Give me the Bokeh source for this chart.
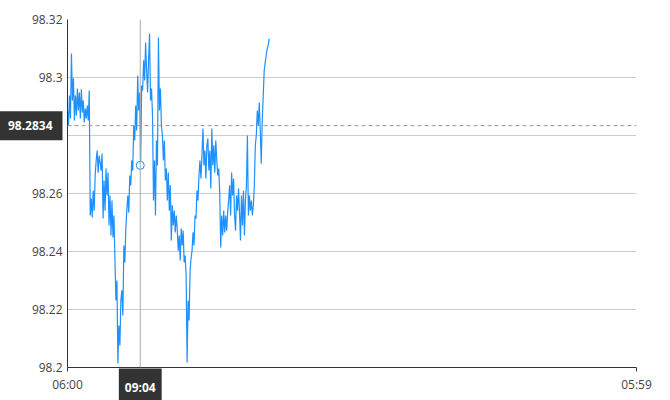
from bokeh.plotting import figure
from bokeh.models import Range1d, FixedTicker, Span, Label, ColumnDataSource
from bokeh.embed import file_html
from bokeh.resources import INLINE

# minutes after 06:00, one sample every 2.5 minutes
step_min = 2.5
price = [
    98.2886, 98.2834, 98.2938, 98.2859, 98.3083, 98.2921, 98.2997, 98.2852, 98.2938, 98.2869,
    98.2962, 98.2886, 98.2948, 98.2859, 98.2959, 98.2879, 98.2921, 98.2845, 98.2893, 98.2859,
    98.2903, 98.2852, 98.2955, 98.2524, 98.2583, 98.2517, 98.2610, 98.2541, 98.2662, 98.2714,
    98.2748, 98.2672, 98.2731, 98.2707, 98.2679, 98.2738, 98.2514, 98.2645, 98.2541, 98.2686,
    98.2593, 98.2672, 98.2490, 98.2593, 98.2455, 98.2576, 98.2448, 98.2524, 98.2369, 98.2231,
    98.2300, 98.2014, 98.2145, 98.2076, 98.2231, 98.2266, 98.2179, 98.2421, 98.2362, 98.2479,
    98.2541, 98.2593, 98.2534, 98.2662, 98.2628, 98.2714, 98.2679, 98.2834, 98.2783, 98.2903,
    98.2817, 98.3007, 98.2886, 98.2948, 98.2697, 98.2972, 98.2955, 98.3059, 98.2990, 98.3121,
    98.3024, 98.2948, 98.3059, 98.3152, 98.2921, 98.2962, 98.2869, 98.2576, 98.2714, 98.2524,
    98.2783, 98.2697, 98.3138, 98.2886, 98.2962, 98.2834, 98.2800, 98.2714, 98.2783, 98.2645,
    98.2686, 98.2576, 98.2672, 98.2541, 98.2628, 98.2438, 98.2559, 98.2490, 98.2541, 98.2466,
    98.2524, 98.2479, 98.2403, 98.2455, 98.2369, 98.2479, 98.2421, 98.2472, 98.2362, 98.2386,
    98.2317, 98.2017, 98.2231, 98.2162, 98.2334, 98.2376, 98.2403, 98.2466, 98.2421, 98.2524,
    98.2514, 98.2610, 98.2576, 98.2662, 98.2714, 98.2652, 98.2731, 98.2824, 98.2697, 98.2748,
    98.2652, 98.2766, 98.2790, 98.2679, 98.2748, 98.2617, 98.2824, 98.2697, 98.2766, 98.2672,
    98.2783, 98.2714, 98.2662, 98.2686, 98.2600, 98.2414, 98.2524, 98.2455, 98.2541, 98.2466,
    98.2524, 98.2472, 98.2534, 98.2576, 98.2628, 98.2524, 98.2672, 98.2593, 98.2652, 98.2524,
    98.2472, 98.2593, 98.2541, 98.2617, 98.2534, 98.2438, 98.2593, 98.2490, 98.2610, 98.2455,
    98.2576, 98.2628, 98.2800, 98.2524, 98.2593, 98.2541, 98.2576, 98.2524, 98.2559, 98.2628,
    98.2766, 98.2800, 98.2886, 98.2834, 98.2914, 98.2817, 98.2703, 98.2852, 98.2938, 98.3024,
    98.3052, 98.3076, 98.3100, 98.3110, 98.3134,
]
times = [i * step_min for i in range(len(price))]

x_ticks = [0, 1439]
x_tick_labels = ["06:00", "05:59"]
y_ticks = [98.2, 98.22, 98.24, 98.26, 98.28, 98.3, 98.32]
# the 98.28 label sits under the price badge in the original, so it is left blank
y_tick_labels = ["98.2", "98.22", "98.24", "98.26", "", "98.3", "98.32"]

ref_price = 98.2834
ref_label = "98.2834"
cursor_time = 184
cursor_label = "09:04"
cursor_price = 98.2697

FONT = "Open Sans"
W, H = 670, 400
BL, BR, BT, BB = 67, 34, 19, 33
X0, X1 = 0, 1439
Y0, Y1 = 98.2, 98.32

p = figure(width=W, height=H, output_backend="svg", toolbar_location=None,
           x_range=Range1d(X0, X1), y_range=Range1d(Y0, Y1),
           min_border_left=BL, min_border_right=BR, min_border_top=BT, min_border_bottom=BB)
p.outline_line_color = None
p.background_fill_color = "white"

src = ColumnDataSource(dict(t=times, v=price))
p.line("t", "v", source=src, line_color="#1E90FF", line_width=1.2)

p.xgrid.visible = False
p.ygrid.ticker = FixedTicker(ticks=y_ticks)
p.ygrid.grid_line_color = "#CCCCCC"

xa = p.xaxis[0]
xa.ticker = FixedTicker(ticks=x_ticks)
xa.major_label_overrides = dict(zip(x_ticks, x_tick_labels))
xa.axis_line_color = "#333333"
xa.major_tick_line_color = "#333333"
xa.major_tick_out = 4
xa.major_tick_in = 0
xa.minor_tick_line_color = None
xa.major_label_standoff = 4
xa.major_label_text_font = FONT
xa.major_label_text_font_size = "12px"
xa.major_label_text_color = "#444444"

ya = p.yaxis[0]
ya.ticker = FixedTicker(ticks=y_ticks)
ya.major_label_overrides = dict(zip(y_ticks, y_tick_labels))
ya.axis_line_color = "#333333"
ya.major_tick_line_color = None
ya.major_tick_out = 0
ya.major_tick_in = 0
ya.minor_tick_line_color = None
ya.major_label_standoff = 5
ya.major_label_text_font = FONT
ya.major_label_text_font_size = "12px"
ya.major_label_text_color = "#444444"

p.add_layout(Span(location=ref_price, dimension="width", line_color="#999999",
                  line_dash="4 3", line_width=1))
p.add_layout(Span(location=cursor_time, dimension="height", line_color="#AAAAAA",
                  line_width=1))
p.scatter([cursor_time], [cursor_price], size=8, marker="circle",
          fill_color="white", line_color="#1E90FF", line_width=1)

# value badges: side-panel annotations are not clipped to the frame;
# their boxes are widened with a thick border of the same colour.
p.add_layout(Label(x=X0, y=ref_price, x_offset=-15, text=ref_label,
                   text_align="right", text_baseline="middle",
                   text_color="white", text_font=FONT,
                   text_font_size="12px", text_font_style="bold",
                   background_fill_color="#333333",
                   border_line_color="#333333", border_line_width=20,
                   border_line_join="miter",
                   padding=0), "above")
p.add_layout(Label(x=cursor_time, y=Y0, y_offset=-7, text=cursor_label,
                   text_align="center", text_baseline="top",
                   text_color="white", text_font=FONT,
                   text_font_size="12px", text_font_style="bold",
                   background_fill_color="#333333",
                   border_line_color="#333333", border_line_width=12,
                   border_line_join="miter",
                   padding=dict(left=0, right=0, top=4, bottom=4)), "right")

open("out.html", "w").write(file_html(p, INLINE))
